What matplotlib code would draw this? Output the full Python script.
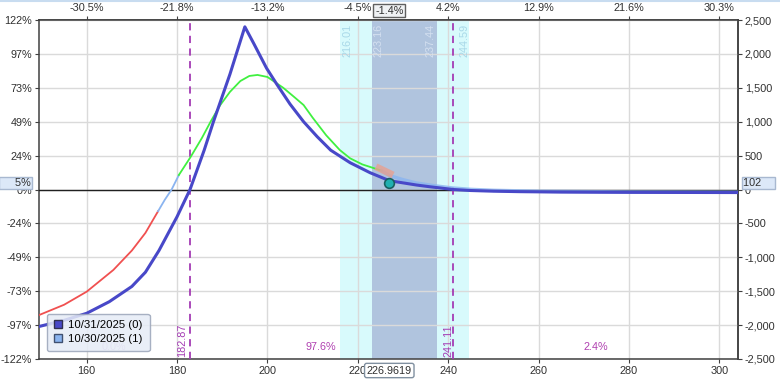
import numpy as np
import matplotlib
matplotlib.use("Agg")
import matplotlib.pyplot as plt
import matplotlib.transforms as mtrans
from matplotlib.lines import Line2D

plt.rcParams['font.family'] = ['Liberation Sans', 'DejaVu Sans']
plt.rcParams['font.size'] = 8

# expiration curve 10/31/2025 (0)
exp_price = [149.5, 155, 160, 165, 170, 173, 176, 180, 182.87, 186, 188, 191.7, 195, 197, 199.8,
             202, 205, 208, 211, 214, 218.3, 222.7, 227, 233, 236, 241.1, 245, 250, 256, 265, 280, 304]
exp_pl = [-2020, -1930, -1826, -1655, -1430, -1220, -900, -401, 0, 580, 990, 1700, 2400, 2150, 1790,
          1560, 1260, 1000, 780, 580, 395, 248, 130, 66, 40, 0, -15, -25, -32, -38, -42, -45]

# T+1 curve 10/30/2025 (1), split by colour
t1_red_price = [149.5, 155, 160, 165.9, 170, 173, 175.8]
t1_red_pl = [-1851, -1700, -1507, -1187, -900, -640, -320]
t1_mid_price = [175.8, 177.3, 178.8, 180.4]
t1_mid_pl = [-320, -150, 0, 214]
t1_green_price = [180.4, 183, 185.5, 187.5, 189.5, 191.7, 194, 196, 197.8, 200, 203.5, 206, 208,
                  210, 213, 216, 218.3, 221, 225.3]
t1_green_pl = [214, 480, 760, 1010, 1240, 1440, 1600, 1675, 1690, 1660, 1500, 1360, 1246,
               1060, 800, 583, 460, 370, 277]
t1_right_price = [225.3, 227, 230, 233, 237, 241, 245, 250, 260, 280, 304]
t1_right_pl = [277, 205, 145, 95, 55, 22, 2, -12, -26, -36, -40]

now_price = 226.9619
now_pl = 95
tangent_price = [224.0, 227.8]
tangent_pl = [336, 214]

outer_band = (216.01, 244.59)
inner_band = (223.16, 237.44)
breakevens = [182.87, 241.11]

price_ticks = [160, 180, 200, 220, 240, 260, 280, 300]
top_labels = ['-30.5%', '-21.8%', '-13.2%', '-4.5%', '4.2%', '12.9%', '21.6%', '30.3%']
pl_ticks = [2500, 2000, 1500, 1000, 500, 0, -500, -1000, -1500, -2000, -2500]
left_labels = ['122%', '97%', '73%', '49%', '24%', '0%', '-24%', '-49%', '-73%', '-97%', '-122%']
right_labels = ['2,500', '2,000', '1,500', '1,000', '500', '0', '-500', '-1,000', '-1,500', '-2,000', '-2,500']

prob_pos = [166, 211.8, 272.6]
prob_labels = ['0.0%', '97.6%', '2.4%']

fs = 7.8
tick_kw = dict(direction='out', length=3, pad=2, color='#404040', labelcolor='#303030', labelsize=fs)

fig = plt.figure(figsize=(7.8, 3.8), dpi=100)
ax = fig.add_axes([0.05, 0.0553, 0.896, 0.892])
ax.set_xlim(149.45, 304.1)
ax.set_ylim(-2500, 2500)

ax.axvspan(*outer_band, color='#d8fafc', zorder=0.1, lw=0)
ax.axvspan(*inner_band, color='#b0c4de', zorder=0.2, lw=0)
ax.grid(True, color='#dadada', lw=1)
ax.set_axisbelow(True)

ax.set_xticks(price_ticks)
ax.set_yticks(pl_ticks, labels=left_labels)
ax.tick_params(**tick_kw)
for s in ax.spines.values():
    s.set_color('#404040')
    s.set_linewidth(1.1)

top = ax.secondary_xaxis('top')
top.set_xticks(price_ticks, labels=top_labels)
top.tick_params(**tick_kw)
right = ax.secondary_yaxis('right')
right.set_yticks(pl_ticks, labels=right_labels)
right.tick_params(**tick_kw)
for sec in (top, right):
    for s in sec.spines.values():
        s.set_color('#404040')
        s.set_linewidth(1.1)

ax.axhline(0, color='#202020', lw=1, zorder=3)
for b in breakevens:
    ax.axvline(b, color='#a43cb4', ls=(0, (4, 3)), lw=1.3, zorder=3)

# band edge labels
tx = mtrans.blended_transform_factory(ax.transData, ax.transAxes)
ax.text(217.7, 0.99, '216.01', rotation=90, va='top', ha='center', color='#a8d8e8', fontsize=fs, transform=tx)
ax.text(224.5, 0.99, '223.16', rotation=90, va='top', ha='center', color='#d4e0f0', fontsize=fs, transform=tx)
ax.text(236.1, 0.99, '237.44', rotation=90, va='top', ha='center', color='#d4e0f0', fontsize=fs, transform=tx)
ax.text(243.5, 0.99, '244.59', rotation=90, va='top', ha='center', color='#a8d8e8', fontsize=fs, transform=tx)

ax.text(181.2, 0.006, '182.87', rotation=90, va='bottom', ha='center', color='#a43cb4', fontsize=fs, transform=tx)
ax.text(240.0, 0.006, '241.11', rotation=90, va='bottom', ha='center', color='#a43cb4', fontsize=fs, transform=tx)

for p, lab, c in zip(prob_pos, prob_labels, ['#d0a8e0', '#b040b0', '#b040b0']):
    ax.text(p, -2330, lab, ha='center', va='center', color=c, fontsize=fs, zorder=2)

ax.plot(t1_red_price, t1_red_pl, color='#f05050', lw=1.3, zorder=4)
ax.plot(t1_mid_price, t1_mid_pl, color='#8ab4f0', lw=1.3, zorder=4)
ax.plot(t1_green_price, t1_green_pl, color='#40f040', lw=1.3, zorder=4)
ax.plot(t1_right_price, t1_right_pl, color='#8ab4f0', lw=2.5, alpha=0.8, zorder=4)
ax.plot(exp_price, exp_pl, color='#4848c8', lw=2.2, zorder=5)
ax.plot(tangent_price, tangent_pl, color='#e8a090', lw=5, alpha=0.8, zorder=6, solid_capstyle='butt')
ax.plot([now_price], [now_pl], 'o', ms=7, mfc='#20b0b0', mec='#1a6060', mew=1.2, zorder=7)

handles = [Line2D([], [], marker='s', ls='none', mfc='#4848c8', mec='#303050', ms=6),
           Line2D([], [], marker='s', ls='none', mfc='#8ab4f0', mec='#405070', ms=6)]
leg = ax.legend(handles, ['10/31/2025 (0)', '10/30/2025 (1)'], loc='lower left',
                bbox_to_anchor=(0.003, 0.006), frameon=True, fancybox=True, facecolor='#e6ecf6',
                edgecolor='#9aa4b8', framealpha=0.85, handlelength=0.8, handletextpad=0.5,
                borderpad=0.6, labelspacing=0.35, fontsize=8.2)
leg.set_zorder(8)

# cursor boxes
ty = mtrans.blended_transform_factory(ax.transAxes, ax.transData)
ax.text(-0.012, now_pl + 7, '     5%', ha='right', va='center', fontsize=fs, color='#303030', transform=ty,
        clip_on=False, zorder=9, bbox=dict(boxstyle='square,pad=0.1', fc='#dce8f8', ec='#a8b8d0'))
ax.text(1.008, now_pl + 7, '102    ', ha='left', va='center', fontsize=fs, color='#303030', transform=ty,
        clip_on=False, zorder=9, bbox=dict(boxstyle='square,pad=0.1', fc='#dce8f8', ec='#a8b8d0'))
ax.text(now_price, 1.028, '-1.4%', ha='center', va='center', fontsize=fs, color='#303030', transform=tx,
        clip_on=False, zorder=9, bbox=dict(boxstyle='square,pad=0.15', fc='#f0f2f4', ec='#606060'))
ax.text(now_price, -0.034, '226.9619', ha='center', va='center', fontsize=fs, color='#303030', transform=tx,
        clip_on=False, zorder=9, bbox=dict(boxstyle='round,pad=0.2', fc='white', ec='#8090a0'))

fig.add_artist(Line2D([0, 1], [0.997, 0.997], color='#c8dcf0', lw=1.5, transform=fig.transFigure))

fig.savefig('out.png', dpi=100)
